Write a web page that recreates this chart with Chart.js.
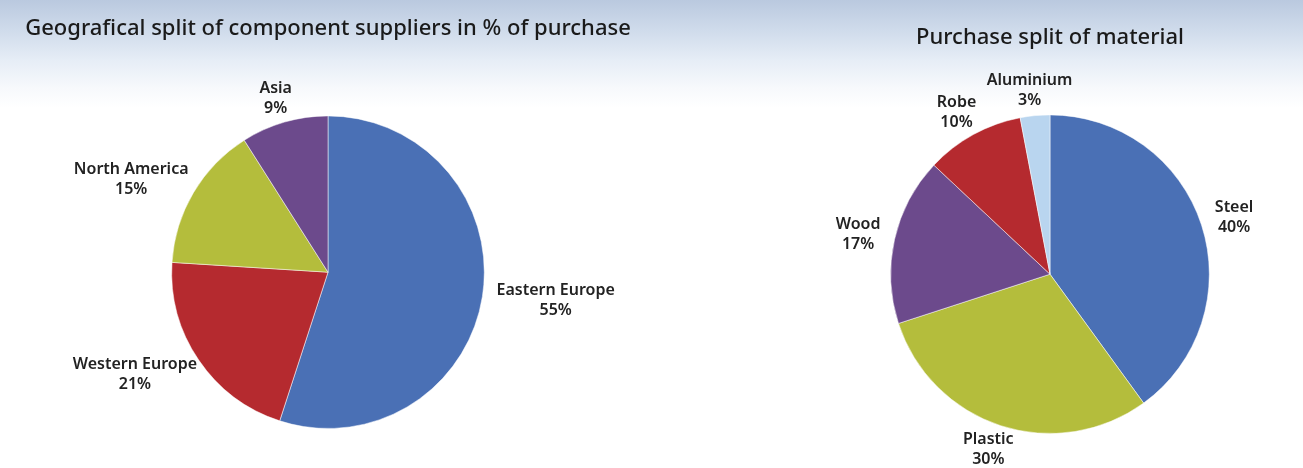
<!DOCTYPE html>
<html>
<head>
<meta charset="utf-8">
<script src="https://cdn.jsdelivr.net/npm/chart.js@4"></script>
<style>
  html, body { margin: 0; padding: 0; }
  body {
    width: 1303px; height: 468px; overflow: hidden; position: relative;
    background: linear-gradient(to bottom, #bac9df 0px, #cfdbeb 30px, #e6edf6 60px, #f7f9fc 88px, #ffffff 108px);
  }
  .box { position: absolute; top: 0; height: 468px; }
  #leftBox { left: 0; width: 656px; }
  #rightBox { left: 656px; width: 647px; }
</style>
</head>
<body>
<div class="box" id="leftBox"><canvas id="geoChart"></canvas></div>
<div class="box" id="rightBox"><canvas id="materialChart"></canvas></div>
<script>
const geoLabels = ['Eastern Europe', 'Western Europe', 'North America', 'Asia'];
const geoValues = [55, 21, 15, 9];
const geoColors = ['#4a70b5', '#b52a2f', '#b4bd3c', '#6c4a8c'];

const materialLabels = ['Steel', 'Plastic', 'Wood', 'Robe', 'Aluminium'];
const materialValues = [40, 30, 17, 10, 3];
const materialColors = ['#4a70b5', '#b4bd3c', '#6c4a8c', '#b52a2f', '#b9d5ef'];

const FONT = '"Noto Sans", sans-serif';

// labels outside each slice, two lines: name and percentage
const outsideLabels = {
    id: 'outsideLabels',
    afterDatasetsDraw(chart) {
        const ctx = chart.ctx;
        const meta = chart.getDatasetMeta(0);
        const values = chart.data.datasets[0].data;
        ctx.save();
        ctx.font = '600 16px ' + FONT;
        ctx.fillStyle = '#222';
        ctx.textAlign = 'center';
        ctx.textBaseline = 'middle';
        const lh = 20;
        const gap = 15;
        meta.data.forEach((arc, i) => {
            const p = arc.getProps(['x', 'y', 'startAngle', 'endAngle', 'outerRadius'], true);
            const mid = (p.startAngle + p.endAngle) / 2;
            const dx = Math.cos(mid), dy = Math.sin(mid);
            const lines = [chart.data.labels[i], values[i] + '%'];
            const w = Math.max(...lines.map(t => ctx.measureText(t).width));
            const cx = p.x + dx * (p.outerRadius + gap) + dx * w / 2;
            const cy = p.y + dy * (p.outerRadius + gap) + dy * lh / 2;
            ctx.fillText(lines[0], cx, cy - lh / 2);
            ctx.fillText(lines[1], cx, cy + lh / 2);
        });
        ctx.restore();
    }
};

function makePie(id, title, labels, values, colors, padding, titlePad) {
    return new Chart(document.getElementById(id), {
        type: 'pie',
        data: {
            labels: labels,
            datasets: [{
                data: values,
                backgroundColor: colors,
                borderColor: 'rgba(255,255,255,0.5)',
                borderWidth: 1
            }]
        },
        options: {
            responsive: true,
            maintainAspectRatio: false,
            animation: false,
            layout: { padding: padding },
            plugins: {
                legend: { display: false },
                tooltip: { enabled: false },
                title: {
                    display: true,
                    text: title,
                    color: '#1a1a1a',
                    font: { family: FONT, size: 22, weight: '500', lineHeight: 1.2 },
                    padding: titlePad
                }
            }
        },
        plugins: [outsideLabels]
    });
}

makePie('geoChart', 'Geografical split of component suppliers in % of purchase',
    geoLabels, geoValues, geoColors,
    { top: 0, bottom: 39, left: 0, right: 0 }, { top: 16, bottom: 73 });

makePie('materialChart', 'Purchase split of material',
    materialLabels, materialValues, materialColors,
    { top: 0, bottom: 34, left: 141, right: 0 }, { top: 25, bottom: 63 });
</script>
</body>
</html>
